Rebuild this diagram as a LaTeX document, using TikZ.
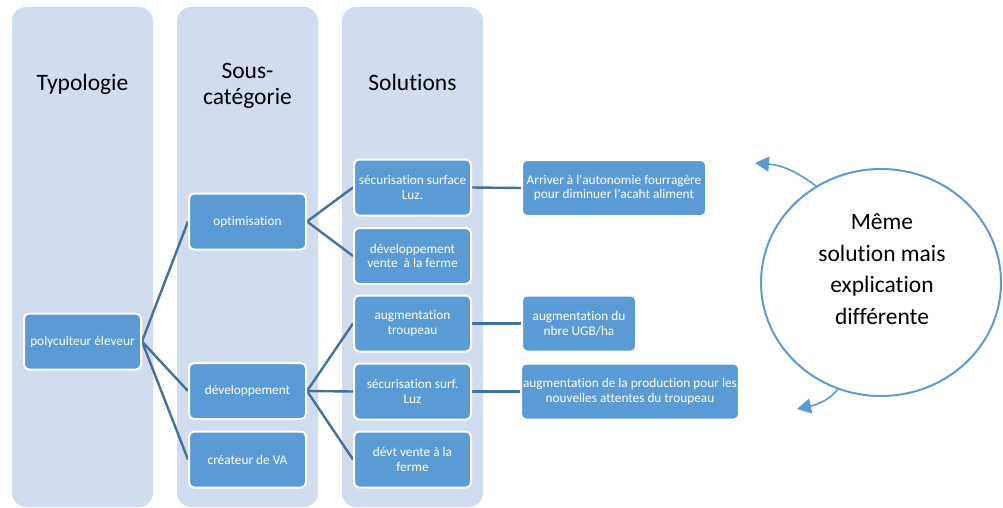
\documentclass[tikz,border=0pt]{standalone}
\usepackage{fontspec}
\setmainfont{Carlito}[Ligatures={TeX,NoCommon}]
\usetikzlibrary{shapes.geometric,arrows.meta}

\definecolor{colbg}{RGB}{209,220,239}
\definecolor{boxfill}{RGB}{91,155,213}
\definecolor{linkcol}{RGB}{65,113,156}
\definecolor{ringcol}{RGB}{91,155,213}

\pgfdeclarelayer{back}
\pgfdeclarelayer{links}
\pgfsetlayers{back,links,main}

\begin{document}
\begin{tikzpicture}[x=1pt,y=-1pt,
  column/.style={fill=colbg, rounded corners=14pt},
  header/.style={font=\fontsize{23.5}{26.5}\selectfont, align=center, text=black, inner sep=0pt},
  item/.style={rectangle, rounded corners=5pt, fill=boxfill, draw=white, line width=2pt,
    text=white, font=\fontsize{13.3}{14.5}\selectfont, align=center,
    minimum height=56pt, minimum width=117pt, inner sep=2pt},
  link/.style={draw=linkcol, line width=2.4pt},
  ring/.style={ellipse, draw=ringcol, line width=2pt, inner sep=0pt,
    minimum width=240pt, minimum height=227pt},
  ringtext/.style={font=\fontsize{23.5}{31.5}\selectfont, align=center, text=black, inner sep=0pt},
  ringarrow/.style={draw=ringcol, line width=1.6pt, -{Triangle[length=14pt,width=15pt]}}
]
\useasboundingbox (0,0) rectangle (1003,508);

% background columns
\begin{pgfonlayer}{back}
  \fill[column] (12,7) rectangle (153,507);
  \fill[column] (177,7) rectangle (318,507);
  \fill[column] (342,7) rectangle (483,507);
\end{pgfonlayer}

% column titles
\node[header, anchor=base] (hTypo) at (82.5,91) {Typologie};
\node[header] (hSous) at (247.5,86) {Sous-\\catégorie};
\node[header, anchor=base] (hSol) at (412.5,91) {Solutions};

% typology
\node[item] (poly) at (82.5,341.5) {polyculteur éleveur};

% sub-categories
\node[item] (opt)  at (247.5,221.5) {optimisation};
\node[item] (dev)  at (247.5,391)   {développement};
\node[item] (crea) at (247.5,459.5) {créateur de VA};

% solutions
\node[item] (s1) at (412.5,187.5) {sécurisation surface\\Luz.};
\node[item] (s2) at (412.5,256)   {développement\\vente \ à la ferme};
\node[item] (s3) at (412.5,323.5) {augmentation\\troupeau};
\node[item] (s4) at (412.5,391.5) {sécurisation surf.\\Luz};
\node[item] (s5) at (412.5,459.5) {dévt vente à la\\ferme};

% explanations
\node[item, minimum width=184pt] (r1) at (614,188)   {Arriver à l\textquotesingle autonomie fourragère\\pour diminuer l\textquotesingle acaht aliment};
\node[item, minimum width=114pt] (r2) at (579,323.5) {augmentation du\\nbre UGB/ha};
\node[item, minimum width=216pt] (r3) at (630,391.5) {augmentation de la production pour les\\nouvelles attentes du troupeau};

% connectors
\begin{pgfonlayer}{links}
  \draw[link] (poly.east) -- (opt.west);
  \draw[link] (poly.east) -- (dev.west);
  \draw[link] (poly.east) -- (crea.west);
  \draw[link] (opt.east) -- (s1.west);
  \draw[link] (opt.east) -- (s2.west);
  \draw[link] (dev.east) -- (s3.west);
  \draw[link] (dev.east) -- (s4.west);
  \draw[link] (dev.east) -- (s5.west);
  \draw[link] (s1.east) -- (r1.west);
  \draw[link] (s3.east) -- (r2.west);
  \draw[link] (s4.east) -- (r3.west);
\end{pgfonlayer}

% cycle ring with its two arrows
\node[ring] (cycle) at (881,282.5) {};
\node[ringtext] (cycletext) at (882,269) {Même\\solution mais\\explication\\différente};
\coordinate (topTip) at (755,163);
\coordinate (botTip) at (797,409);
\draw[ringarrow] (cycle.124) .. controls (795,170) and (780,165) .. (topTip);
\draw[ringarrow] (cycle.248) .. controls (831,398) and (820,404) .. (botTip);
\end{tikzpicture}
\end{document}
